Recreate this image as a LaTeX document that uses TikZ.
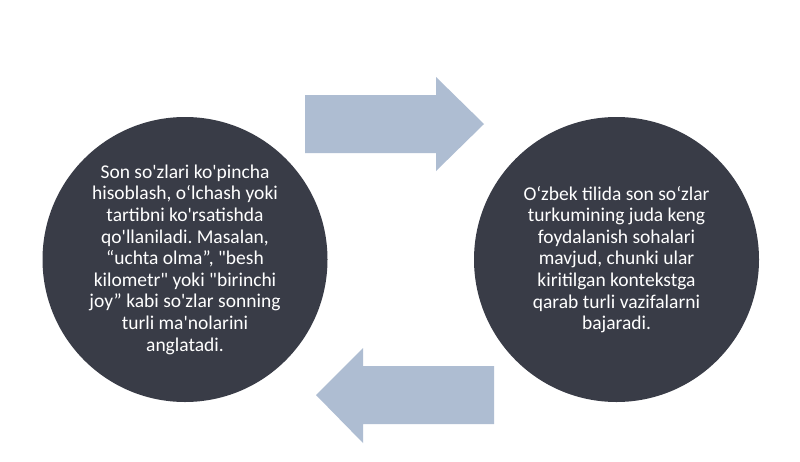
\documentclass[tikz,border=0pt]{standalone}
\usepackage{fontspec}
\newfontfamily\cfont{Carlito}
\definecolor{bubblecol}{HTML}{393C47}
\definecolor{arrowcol}{HTML}{AEBDD2}
\begin{document}
\frenchspacing
\begin{tikzpicture}[x=1pt,y=-1pt,
  bubble/.style={circle,fill=bubblecol,minimum size=285pt,inner sep=0pt},
  bubbletext/.style={inner sep=0pt,text=white,align=center,
    font=\cfont\fontsize{19.5}{21.6}\selectfont},
  bigarrow/.style={fill=arrowcol,draw=none}]
\useasboundingbox (0,0) rectangle (800,461);
\fill[white] (0,0) rectangle (800,461);
\node[bubble] (L) at (185,259.5) {};
\node[bubbletext] (Lt) at (L.center) {Son so'zlari ko'pincha\\hisoblash, o‘lchash yoki\\tartibni ko'rsatishda\\qo'llaniladi. Masalan,\\“uchta olma”, "besh\\kilometr" yoki "birinchi\\joy” kabi so'zlar sonning\\turli ma'nolarini\\anglatadi.};
\node[bubble] (R) at (616.5,259.5) {};
\node[bubbletext] (Rt) at (R.center) {O‘zbek tilida son so‘zlar\\turkumining juda keng\\foydalanish sohalari\\mavjud, chunki ular\\kiritilgan kontekstga\\qarab turli vazifalarni\\bajaradi.};
% top arrow (left to right)
\coordinate (t1) at (305,95);
\coordinate (t2) at (436,95);
\coordinate (t3) at (436,77);
\coordinate (ttip) at (484,124);
\coordinate (t5) at (436,171);
\coordinate (t6) at (436,153);
\coordinate (t7) at (305,153);
\path[bigarrow] (t1) -- (t2) -- (t3) -- (ttip) -- (t5) -- (t6) -- (t7) -- cycle;
% bottom arrow (right to left)
\coordinate (b1) at (494,366);
\coordinate (b2) at (363,366);
\coordinate (b3) at (363,348);
\coordinate (btip) at (316,395);
\coordinate (b5) at (363,443);
\coordinate (b6) at (363,424);
\coordinate (b7) at (494,424);
\path[bigarrow] (b1) -- (b2) -- (b3) -- (btip) -- (b5) -- (b6) -- (b7) -- cycle;
\end{tikzpicture}
\end{document}
